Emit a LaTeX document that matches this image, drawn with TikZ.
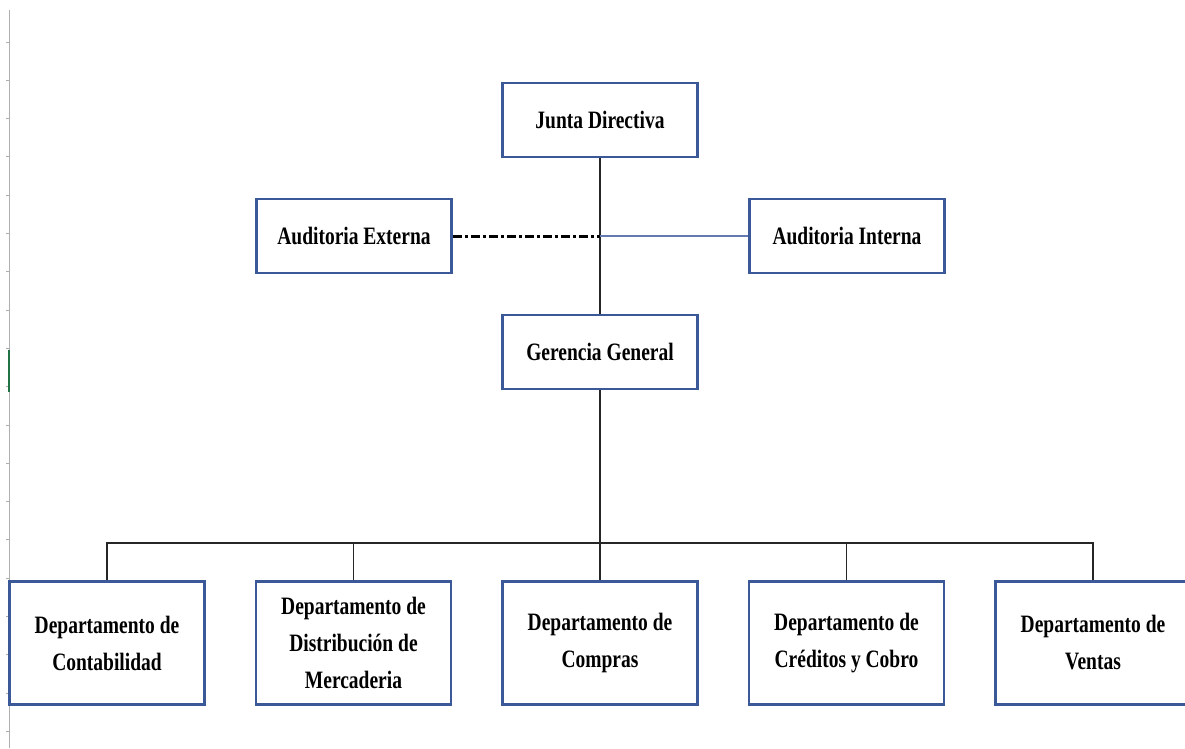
\documentclass[tikz,border=0pt]{standalone}
\usepackage{fontspec}
\setmainfont{Liberation Serif}[FakeStretch=0.78]
\usepackage{tikz}
\usetikzlibrary{positioning}
\definecolor{boxblue}{RGB}{59,89,152}
\definecolor{gridgray}{RGB}{175,175,175}
\definecolor{cellgreen}{RGB}{33,115,70}

\begin{document}
\begin{tikzpicture}[
  x=1pt, y=-1pt,
  every node/.style={inner sep=2pt},
  box/.style={draw=boxblue, line width=2.5pt, minimum width=195pt, minimum height=74pt, align=center, font=\fontsize{25}{37}\selectfont\bfseries},
  dept/.style={box, minimum height=123pt},
  link/.style={draw=black!85, line width=1.3pt},
  dashdot/.style={line width=3pt, dash pattern=on 9pt off 3pt on 3pt off 3pt},
  bluelink/.style={draw=boxblue!80, line width=1.3pt},
  node distance=49pt
]
\useasboundingbox (0,0) rectangle (1185,748);

% left edge of the sheet
\draw[gridgray, line width=1pt] (9,10) -- (9,748);
\foreach \k in {0,...,18}
  \draw[gridgray, line width=1pt] (6,42+38.3*\k) -- (9,42+38.3*\k);
\draw[cellgreen, line width=2pt] (9,350) -- (9,392);

% upper levels
\node[box] (junta)    at (600,120) {Junta Directiva};
\node[box] (audext)   at (354,236) {Auditoria Externa};
\node[box] (audint)   at (847,236) {Auditoria Interna};
\node[box] (gerencia) at (600,352) {Gerencia General};

% departments, side by side
\node[dept] (compras) at (600,643) {Departamento de\\ Compras};
\node[dept, left=of compras]   (distri)   {Departamento de\\ Distribución de\\ Mercaderia};
\node[dept, left=of distri]    (conta)    {Departamento de\\ Contabilidad};
\node[dept, right=of compras]  (creditos) {Departamento de\\ Créditos y Cobro};
\node[dept, right=of creditos] (ventas)   {Departamento de\\ Ventas};

\coordinate (audmid) at (junta.south |- audext.east);
\coordinate (bus)    at (600,543);

\draw[link] (junta.south) -- (gerencia.north);
\draw[dashdot] (audext.east) -- (audmid);
\draw[bluelink] (audmid) -- (audint.west);

\draw[link] (gerencia.south) -- (compras.north);
\draw[link] (conta.north) |- (bus) -| (ventas.north);
\draw[link] (distri.north) -- (distri.north |- bus);
\draw[link] (creditos.north) -- (creditos.north |- bus);

\end{tikzpicture}
\end{document}
